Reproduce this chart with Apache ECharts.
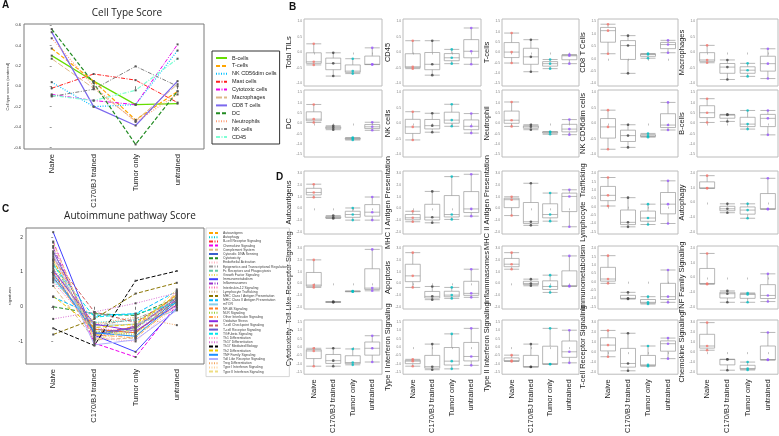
<!DOCTYPE html>
<html>
<head>
<meta charset="utf-8">
<script src="https://cdn.jsdelivr.net/npm/echarts@6/dist/echarts.min.js"></script>
<style>
html, body { margin: 0; padding: 0; background: #fff; }
#chart { width: 779px; height: 436px; }
</style>
</head>
<body>
<div id="chart"></div>
<script>
// groups on every x axis
const groups = ['Naive', 'C170/BJ trained', 'Tumor only', 'untrained'];

// A: cell type scores (one row per cell type, one value per group)
const cellTypes = ['B-cells', 'T-cells', 'NK CD56dim cells', 'Mast cells', 'Cytotoxic cells', 'Macrophages',
  'CD8 T cells', 'DC', 'Neutrophils', 'NK cells', 'CD45'];
const cellScores = [
  [0.30, 0.05, -0.18, -0.17],
  [0.37, 0.05, -0.33, -0.05],
  [0.04, -0.20, -0.18, 0.35],
  [-0.02, 0.12, 0.06, -0.16],
  [-0.08, -0.14, -0.18, 0.41],
  [0.27, -0.02, -0.34, 0.02],
  [0.53, -0.20, -0.385, 0.05],
  [0.56, 0.03, -0.57, -0.05],
  [0.47, 0.00, -0.35, -0.08],
  [-0.10, -0.03, 0.195, 0.00],
  [-0.09, -0.14, -0.04, 0.27]
];
const cellTicks = [-0.6, -0.4, -0.2, 0, 0.2, 0.4, 0.6];

// C: autoimmune pathway scores
const pathways = ['Autoantigens', 'Autophagy', 'B-cell Receptor Signaling', 'Chemokine Signaling', 'Complement System',
  'Cytosolic DNA Sensing', 'Cytotoxicity', 'Endothelial Activation', 'Epigenetics and Transcriptional Regulation',
  'Fc Receptors and Phagocytosis', 'Growth Factor Signaling', 'Immunometabolism', 'Inflammasomes',
  'Interleukin-12 Signaling', 'Lymphocyte Trafficking', 'MHC Class I Antigen Presentation',
  'MHC Class II Antigen Presentation', 'mTOR', 'NF-kB Signaling', 'NLR Signaling', 'Other Interleukin Signaling',
  'Oxidative Stress', 'T-cell Checkpoint Signaling', 'T-cell Receptor Signaling', 'TGF-beta Signaling',
  'Th1 Differentiation', 'Th17 Differentiation', 'Th17 Mediated Biology', 'Th2 Differentiation',
  'TNF Family Signaling', 'Toll Like Receptor Signaling', 'Treg Differentiation',
  'Type I Interferon Signaling', 'Type II Interferon Signaling'];
const pathwayScores = [
  [1.35, -0.85, -0.55, 0.35], [0.75, -0.45, -0.40, 0.10], [1.00, -0.75, -0.60, 0.20], [1.88, -1.05, -1.45, 0.05],
  [0.60, -0.95, -0.90, 0.45], [0.85, -0.65, -0.75, 0.20], [0.00, -0.20, -0.25, 0.25], [1.55, -1.00, -0.70, 0.00],
  [1.10, -0.55, -0.35, 0.15], [1.25, -0.80, -0.65, 0.30], [0.95, -0.70, -0.85, 0.05], [2.15, -0.82, -1.30, -0.03],
  [1.70, -0.90, -0.55, 0.20], [0.70, -0.60, -0.75, 0.40], [1.15, -0.95, -0.60, 0.35], [-0.80, -0.35, 0.38, 0.69],
  [0.28, -0.25, -0.20, 0.45], [0.80, -0.55, -0.50, -0.10], [1.45, -0.65, -0.75, 0.15], [1.30, -0.70, -0.80, 0.30],
  [0.90, -0.80, -0.90, 0.10], [1.05, -0.50, -0.70, 0.05], [1.40, -0.15, -0.45, 0.30], [1.60, -0.78, -0.60, 0.25],
  [1.20, -0.30, -0.20, 0.10], [1.75, -0.90, -1.00, 0.05], [-0.35, -0.15, 0.10, 0.40], [-0.62, -1.12, 0.75, 1.03],
  [0.30, -0.60, -0.50, 0.35], [0.95, -0.75, -0.85, 0.15], [1.50, -1.10, -0.95, -0.10], [1.00, -0.50, -0.30, -0.53],
  [1.35, -0.45, -0.55, 0.20], [1.85, -0.95, -0.65, 0.50]
];
const pathwayTicks = [-1, 0, 1, 2];

// B and D: sample scores per group (Naive, C170/BJ trained, Tumor only, untrained)
const totalTils = [[0.28, -0.30, -0.40], [-0.01, -0.35, -0.76], [-0.20, -0.60, -0.68], [0.15, -0.38, -0.39]];
const cd45 = [[0.38, -0.46, -0.52], [0.38, -0.38, -0.73], [0.10, -0.17, -0.36], [0.79, 0.04, -0.38]];
const tCells = [[0.94, 0.02, -0.51], [0.62, -0.21, -0.93], [-0.34, -0.54, -0.78], [-0.10, -0.16, -0.54]];
const cd8 = [[1.39, 1.13, 0.20], [0.93, 0.53, -0.59], [0.21, 0.17, 0.02], [0.74, 0.57, 0.24]];
const macrophages = [[0.23, -0.24, -0.33], [-0.24, -0.47, -0.87], [-0.35, -0.57, -0.77], [0.12, -0.36, -0.84]];
const dc = [[0.92, 0.21, 0.05], [-0.11, -0.20, -0.30], [-0.68, -0.73, -0.80], [0.06, -0.16, -0.33]];
const nkCells = [[0.38, -0.11, -0.53], [0.33, -0.07, -0.28], [0.62, 0.11, -0.09], [0.32, -0.09, -0.31]];
const neutrophil = [[1.04, 0.16, -0.14], [-0.06, -0.16, -0.30], [-0.40, -0.41, -0.52], [0.19, -0.27, -0.54]];
const nkCd56 = [[0.43, -0.11, -0.83], [-0.04, -0.39, -0.77], [-0.32, -0.40, -0.44], [0.68, -0.05, -0.21]];
const bCells = [[1.20, 0.52, 0.05], [0.44, 0.41, 0.10], [0.63, -0.03, -0.27], [0.63, 0.25, -0.55]];

const autoantigens = [[2.07, 1.36, 0.94], [-0.62, -0.79, -0.87], [0.03, -0.53, -1.01], [0.97, -0.33, -1.01]];
const mhc1 = [[-0.25, -0.81, -1.15], [1.45, -0.76, -1.24], [2.72, -0.53, -0.95], [2.92, -0.05, -0.67]];
const mhc2 = [[0.99, 0.74, -0.62], [2.15, -1.15, -1.46], [1.31, -0.53, -1.10], [1.59, 1.02, -1.58]];
const lymphTraffic = [[1.75, 0.68, 0.04], [0.54, -0.94, -1.21], [0.15, -0.68, -1.07], [1.55, 0.15, -1.01]];
const autophagy = [[1.84, 0.99, 0.97], [-0.09, -0.43, -0.70], [-0.09, -0.52, -1.08], [1.66, -0.43, -0.47]];
const tollLike = [[2.01, -0.15, -0.35], [-1.57, -1.60, -1.63], [-0.66, -0.69, -0.72], [2.91, -0.41, -0.64]];
const apoptosis = [[2.63, 0.64, -0.35], [-0.27, -1.12, -1.40], [-0.35, -1.01, -1.29], [1.21, -0.86, -1.20]];
const inflammasomes = [[2.63, 1.64, 1.21], [0.36, -0.01, -0.21], [0.70, -0.27, -0.78], [2.35, -0.21, -0.27]];
const immunometab = [[1.56, 0.16, -0.10], [-0.64, -1.00, -1.04], [-0.90, -1.24, -1.34], [0.70, -0.90, -1.24]];
const tnfFamily = [[1.65, -0.41, -0.46], [-0.92, -1.11, -1.70], [-1.06, -1.16, -1.70], [0.25, -1.23, -1.65]];
const cytotox = [[-0.07, -0.23, -1.14], [-0.07, -0.81, -1.14], [-0.11, -0.92, -1.06], [0.68, -0.07, -0.89]];
const typeIIfn = [[-0.73, -0.84, -1.14], [0.18, -1.17, -1.35], [0.79, -0.84, -1.30], [1.12, -0.56, -1.09]];
const typeIIIfn = [[-0.48, -0.81, -0.86], [0.18, -1.17, -1.19], [1.12, -1.01, -1.02], [1.01, -0.28, -0.94]];
const tcrSignal = [[2.16, 0.70, -0.46], [1.88, -1.13, -1.86], [0.61, -1.27, -1.41], [1.40, 0.84, -0.65]];
const chemokine = [[2.94, 0.61, 0.19], [-0.71, -0.74, -1.80], [-0.99, -1.63, -1.78], [1.96, -0.74, -0.79]];

// tick label sets
const ticks5 = [-1, -0.5, 0, 0.5, 1];
const ticks6 = [-1, -0.5, 0, 0.5, 1, 1.5];
const ticks7 = [-1.5, -1, -0.5, 0, 0.5, 1, 1.5];
const ticksD5 = [-2, -1, 0, 1, 2];
const ticksD6 = [-2, -1, 0, 1, 2, 3];
const ticksD8 = [-1.5, -1, -0.5, 0, 0.5, 1, 1.5, 2];

// ---- styles and layout ----
const FONT = 'Liberation Sans';
const dash = { solid: 'solid', dashed: [4, 2], dotted: [1, 1.5], dotdash: [4, 1.5, 1, 1.5], longdash: [6, 2] };
const cellStyles = [
  ['#66dd00', 'solid', 1.2], ['#ffa500', 'dashed', 1.2], ['#00bfff', 'dotted', 1.2], ['#ff2020', 'dotdash', 1],
  ['#ee00ee', 'dotdash', 1], ['#deb887', 'longdash', 1], ['#7b68ee', 'solid', 1.2], ['#228b22', 'dashed', 1.2],
  ['#ffa07a', 'dotted', 1.2], ['#808080', 'dotdash', 1], ['#7fffd4', 'dotdash', 1.2]
];
const pathwayStyles = [
  ['#ffa500', 'dashed'], ['#00ced1', 'dotted'], ['#ff3030', 'dotdash'], ['#ee00ee', 'dashed'], ['#deb887', 'dashed'],
  ['#3a5fcd', 'solid'], ['#228b22', 'dashed'], ['#ffb6c1', 'dotted'], ['#999999', 'dotdash'], ['#66cdaa', 'dashed'],
  ['#e6d85c', 'dotted'], ['#4040ff', 'solid'], ['#9932cc', 'dotdash'], ['#ff69b4', 'dotted'], ['#d2b48c', 'dotted'],
  ['#8b7500', 'dashed'], ['#00bfff', 'dashed'], ['#87ceeb', 'solid'], ['#ff7f24', 'dashed'], ['#9acd32', 'dotted'],
  ['#ffa54f', 'dotdash'], ['#8a2be2', 'solid'], ['#cd5c5c', 'dashed'], ['#6a5acd', 'solid'], ['#00e5ee', 'dashed'],
  ['#ff9ec4', 'dotted'], ['#da70d6', 'dotted'], ['#000000', 'dashed'], ['#eec900', 'dashed'], ['#1e90ff', 'solid'],
  ['#b0b0ff', 'solid'], ['#f4a460', 'dotted'], ['#ffd39b', 'dotted'], ['#eedd82', 'dashed']
];
const groupColors = ['#f8766d', '#444444', '#00bfc4', '#9b59ff'];

const colLeft = [304, 403, 502, 598, 697];
const colWidth = [78, 78, 77, 80, 81];
const bRows = [[19, 86], [90, 157]];
const dRows = [[171, 234], [246, 309], [320, 383]];

const boxPanels = [
  ['B', 0, 0, 'Total TILs', totalTils, ticks5], ['B', 0, 1, 'CD45', cd45, ticks5],
  ['B', 0, 2, 'T-cells', tCells, ticks7], ['B', 0, 3, 'CD8 T Cells', cd8, ticks6],
  ['B', 0, 4, 'Macrophages', macrophages, ticks5],
  ['B', 1, 0, 'DC', dc, ticks7], ['B', 1, 1, 'NK cells', nkCells, ticks5],
  ['B', 1, 2, 'Neutrophil', neutrophil, ticks7], ['B', 1, 3, 'NK CD56dim cells', nkCd56, ticks5],
  ['B', 1, 4, 'B-cells', bCells, ticks7],
  ['D', 0, 0, 'Autoantigens', autoantigens, ticksD6], ['D', 0, 1, 'MHC I Antigen Presentation', mhc1, ticksD6],
  ['D', 0, 2, 'MHC II Antigen Presentation', mhc2, ticksD6], ['D', 0, 3, 'Lymphocyte  Trafficking', lymphTraffic, ticksD8],
  ['D', 0, 4, 'Autophagy', autophagy, ticksD5],
  ['D', 1, 0, 'Toll Like Receptor Signaling', tollLike, ticksD6], ['D', 1, 1, 'Apoptosis', apoptosis, ticksD6],
  ['D', 1, 2, 'Inflammasomes', inflammasomes, ticksD6], ['D', 1, 3, 'Immunometabolism', immunometab, ticksD8],
  ['D', 1, 4, 'TNF Family Signaling', tnfFamily, ticksD5],
  ['D', 2, 0, 'Cytotoxicity', cytotox, ticks7], ['D', 2, 1, 'Type I Interferon Signaling', typeIIfn, ticks7],
  ['D', 2, 2, 'Type II Interferon Signaling', typeIIIfn, ticks7], ['D', 2, 3, 'T-cell Receptor Signaling', tcrSignal, ticksD6],
  ['D', 2, 4, 'Chemokine Signaling', chemokine, ticksD6]
];

const grids = [], xAxes = [], yAxes = [], series = [], datasets = [];

// line panels A and C
function linePanel(box, xRange, yRange, ticks, tickFont, yName, names, values, styles, defWidth) {
  const gi = grids.length;
  grids.push({ left: box[0], top: box[1], width: box[2], height: box[3], show: true, borderColor: '#7a7a7a', borderWidth: 1 });
  xAxes.push({
    gridIndex: gi, type: 'value', min: xRange[0], max: xRange[1],
    axisLine: { show: false }, splitLine: { show: false },
    axisTick: { customValues: [0, 1, 2, 3], length: 3, lineStyle: { color: '#555', width: 0.8 } },
    axisLabel: { customValues: [0, 1, 2, 3], formatter: v => groups[v], rotate: 90, fontSize: 7.5, color: '#222', margin: 5, fontFamily: FONT }
  });
  yAxes.push({
    gridIndex: gi, type: 'value', min: yRange[0], max: yRange[1],
    axisLine: { show: false }, splitLine: { show: false },
    axisTick: { customValues: ticks, length: 2, lineStyle: { color: '#555', width: 0.6 } },
    axisLabel: { customValues: ticks, fontSize: tickFont, color: '#333', margin: 3, fontFamily: FONT,
      formatter: v => ticks === cellTicks ? v.toFixed(1) : String(v) },
    name: yName, nameLocation: 'middle', nameGap: 14, nameRotate: 90,
    nameTextStyle: { fontSize: 4, color: '#333', fontFamily: FONT }
  });
  names.forEach((n, i) => {
    const st = styles[i];
    series.push({
      name: n, type: 'line', xAxisIndex: gi, yAxisIndex: gi,
      data: values[i].map((v, k) => [k, v]),
      symbol: 'rect', symbolSize: 2,
      itemStyle: { color: '#555' },
      lineStyle: { color: st[0], type: dash[st[1]], width: st[2] || defWidth },
      emphasis: { disabled: true }, silent: true
    });
  });
}

linePanel([24, 24, 180, 125], [-0.66, 3.63], [-0.615, 0.61], cellTicks, 4,
  'Cell type scores (centered)', cellTypes, cellScores, cellStyles, 1);
linePanel([26, 228, 178, 136], [-0.66, 3.66], [-1.65, 2.27], pathwayTicks, 5,
  'signatures', pathways, pathwayScores, pathwayStyles, 1);

// box panels B and D
boxPanels.forEach(p => {
  const [sec, row, col, label, data, ticks] = p;
  const rr = (sec === 'B' ? bRows : dRows)[row];
  const bottomRow = sec === 'D' && row === 2;
  const gi = grids.length;
  const span = ticks[ticks.length - 1] - ticks[0];
  grids.push({ left: colLeft[col], top: rr[0], width: colWidth[col], height: rr[1] - rr[0],
    show: true, borderColor: '#bcbcbc', borderWidth: 1 });
  xAxes.push({
    gridIndex: gi, type: 'category', data: groups, boundaryGap: true,
    axisLine: { show: false }, splitLine: { show: false },
    axisTick: { show: true, alignWithLabel: true, length: 2, lineStyle: { color: '#999', width: 0.6 } },
    axisLabel: { show: bottomRow, interval: 0, rotate: 90, fontSize: 7.5, color: '#222', margin: 5, fontFamily: FONT }
  });
  yAxes.push({
    gridIndex: gi, type: 'value', min: ticks[0] - 0.04 * span, max: ticks[ticks.length - 1] + 0.04 * span,
    axisLine: { show: false }, splitLine: { show: false },
    axisTick: { customValues: ticks, length: 1.5, lineStyle: { color: '#999', width: 0.5 } },
    axisLabel: { customValues: ticks, fontSize: 3.2, color: '#777', margin: 2, fontFamily: FONT, formatter: v => v.toFixed(1) },
    name: label, nameLocation: 'middle', nameGap: 8, nameRotate: 90,
    nameTextStyle: { fontSize: 7.5, color: '#222', fontFamily: FONT }
  });
  const di = datasets.length;
  datasets.push({ source: data });
  datasets.push({ fromDatasetIndex: di, transform: { type: 'boxplot',
    config: { boundIQR: 'none', itemNameFormatter: prm => groups[prm.value] } } });
  series.push({
    type: 'boxplot', datasetIndex: di + 1, xAxisIndex: gi, yAxisIndex: gi,
    boxWidth: [15, 15], silent: true,
    itemStyle: { color: 'rgba(255,255,255,0)', borderColor: '#9a9a9a', borderWidth: 0.7 }
  });
  const pts = [];
  data.forEach((vals, g) => vals.forEach(v => pts.push({ value: [g, v], itemStyle: { color: groupColors[g] } })));
  series.push({
    type: 'scatter', xAxisIndex: gi, yAxisIndex: gi, data: pts, symbolSize: 2.6, silent: true
  });
});

const chart = echarts.init(document.getElementById('chart'));
chart.setOption({
  animation: false,
  backgroundColor: '#fff',
  textStyle: { fontFamily: FONT },
  title: [
    { text: 'A', left: 2, top: 0, padding: 0, textStyle: { fontSize: 10, fontWeight: 'bold', color: '#111' } },
    { text: 'C', left: 2, top: 204, padding: 0, textStyle: { fontSize: 10, fontWeight: 'bold', color: '#111' } },
    { text: 'B', left: 289, top: 2, padding: 0, textStyle: { fontSize: 10, fontWeight: 'bold', color: '#111' } },
    { text: 'D', left: 276, top: 172, padding: 0, textStyle: { fontSize: 10, fontWeight: 'bold', color: '#111' } },
    { text: 'Cell Type Score', left: 127, top: 8, padding: 0, textAlign: 'center',
      textStyle: { fontSize: 10, fontWeight: 'normal', color: '#222', fontFamily: 'Open Sans' } },
    { text: 'Autoimmune pathway Score', left: 130, top: 211, padding: 0, textAlign: 'center',
      textStyle: { fontSize: 10, fontWeight: 'normal', color: '#222', fontFamily: 'Open Sans' } }
  ],
  legend: [
    { data: cellTypes, orient: 'vertical', left: 212, top: 51, padding: [4, 3, 4, 3], selectedMode: false,
      itemWidth: 11, itemHeight: 5, itemGap: 1.9, itemStyle: { opacity: 0 },
      textStyle: { fontSize: 5.5, lineHeight: 6, color: '#222', fontFamily: FONT },
      borderColor: '#333', borderWidth: 1 },
    { data: pathways, orient: 'vertical', left: 206, top: 228, padding: [3, 2, 3, 2], selectedMode: false,
      itemWidth: 9, itemHeight: 3, itemGap: 0.2, itemStyle: { opacity: 0 },
      textStyle: { fontSize: 3.4, lineHeight: 4, color: '#444', fontFamily: FONT },
      borderColor: '#cccccc', borderWidth: 0.8 }
  ],
  dataset: datasets,
  grid: grids,
  xAxis: xAxes,
  yAxis: yAxes,
  series: series
});
</script>
</body>
</html>
